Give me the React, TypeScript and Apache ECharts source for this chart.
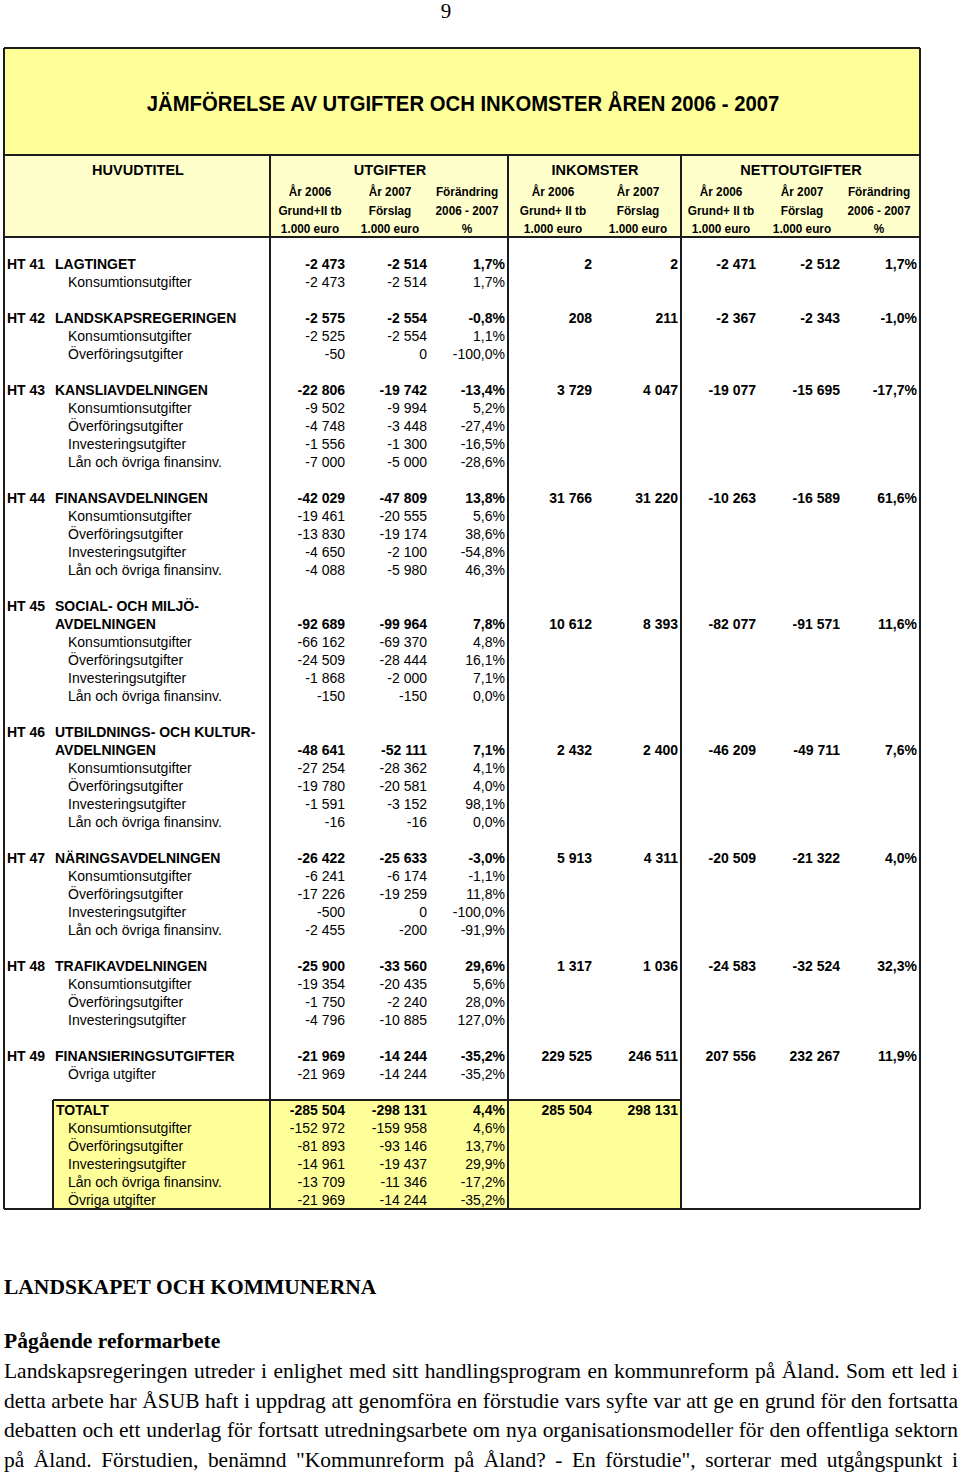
import React, { useEffect, useRef } from "react";
import * as echarts from "echarts";

// ---------- DATA ----------
const pageNumber = "9";
const tableTitle = "JÄMFÖRELSE AV UTGIFTER OCH INKOMSTER ÅREN 2006 - 2007";
const groupHeaders = ["HUVUDTITEL", "UTGIFTER", "INKOMSTER", "NETTOUTGIFTER"];
const subHeaderYears = ["År 2006", "År 2007", "Förändring", "År 2006", "År 2007", "År 2006", "År 2007", "Förändring"];
const subHeaderBasis = ["Grund+II tb", "Förslag", "2006 - 2007", "Grund+ II tb", "Förslag", "Grund+ II tb", "Förslag", "2006 - 2007"];
const subHeaderUnits = ["1.000 euro", "1.000 euro", "%", "1.000 euro", "1.000 euro", "1.000 euro", "1.000 euro", "%"];

const htCodes = ["HT 41", "HT 42", "HT 43", "HT 44", "HT 45", "HT 46", "HT 47", "HT 48", "HT 49"];
const htNames = [
  ["LAGTINGET"],
  ["LANDSKAPSREGERINGEN"],
  ["KANSLIAVDELNINGEN"],
  ["FINANSAVDELNINGEN"],
  ["SOCIAL- OCH MILJÖ-", "AVDELNINGEN"],
  ["UTBILDNINGS- OCH KULTUR-", "AVDELNINGEN"],
  ["NÄRINGSAVDELNINGEN"],
  ["TRAFIKAVDELNINGEN"],
  ["FINANSIERINGSUTGIFTER"],
];
const htUtg2006 = [-2473, -2575, -22806, -42029, -92689, -48641, -26422, -25900, -21969];
const htUtg2007 = [-2514, -2554, -19742, -47809, -99964, -52111, -25633, -33560, -14244];
const htUtgChange = [1.7, -0.8, -13.4, 13.8, 7.8, 7.1, -3.0, 29.6, -35.2];
const htInk2006 = [2, 208, 3729, 31766, 10612, 2432, 5913, 1317, 229525];
const htInk2007 = [2, 211, 4047, 31220, 8393, 2400, 4311, 1036, 246511];
const htNet2006 = [-2471, -2367, -19077, -10263, -82077, -46209, -20509, -24583, 207556];
const htNet2007 = [-2512, -2343, -15695, -16589, -91571, -49711, -21322, -32524, 232267];
const htNetChange = [1.7, -1.0, -17.7, 61.6, 11.6, 7.6, 4.0, 32.3, 11.9];

const subLabels = [
  ["Konsumtionsutgifter"],
  ["Konsumtionsutgifter", "Överföringsutgifter"],
  ["Konsumtionsutgifter", "Överföringsutgifter", "Investeringsutgifter", "Lån och övriga finansinv."],
  ["Konsumtionsutgifter", "Överföringsutgifter", "Investeringsutgifter", "Lån och övriga finansinv."],
  ["Konsumtionsutgifter", "Överföringsutgifter", "Investeringsutgifter", "Lån och övriga finansinv."],
  ["Konsumtionsutgifter", "Överföringsutgifter", "Investeringsutgifter", "Lån och övriga finansinv."],
  ["Konsumtionsutgifter", "Överföringsutgifter", "Investeringsutgifter", "Lån och övriga finansinv."],
  ["Konsumtionsutgifter", "Överföringsutgifter", "Investeringsutgifter"],
  ["Övriga utgifter"],
];
const subUtg2006 = [
  [-2473],
  [-2525, -50],
  [-9502, -4748, -1556, -7000],
  [-19461, -13830, -4650, -4088],
  [-66162, -24509, -1868, -150],
  [-27254, -19780, -1591, -16],
  [-6241, -17226, -500, -2455],
  [-19354, -1750, -4796],
  [-21969],
];
const subUtg2007 = [
  [-2514],
  [-2554, 0],
  [-9994, -3448, -1300, -5000],
  [-20555, -19174, -2100, -5980],
  [-69370, -28444, -2000, -150],
  [-28362, -20581, -3152, -16],
  [-6174, -19259, 0, -200],
  [-20435, -2240, -10885],
  [-14244],
];
const subUtgChange = [
  [1.7],
  [1.1, -100.0],
  [5.2, -27.4, -16.5, -28.6],
  [5.6, 38.6, -54.8, 46.3],
  [4.8, 16.1, 7.1, 0.0],
  [4.1, 4.0, 98.1, 0.0],
  [-1.1, 11.8, -100.0, -91.9],
  [5.6, 28.0, 127.0],
  [-35.2],
];

const totalLabel = "TOTALT";
const totalUtg2006 = -285504;
const totalUtg2007 = -298131;
const totalUtgChange = 4.4;
const totalInk2006 = 285504;
const totalInk2007 = 298131;
const totalSubLabels = ["Konsumtionsutgifter", "Överföringsutgifter", "Investeringsutgifter", "Lån och övriga finansinv.", "Övriga utgifter"];
const totalSubUtg2006 = [-152972, -81893, -14961, -13709, -21969];
const totalSubUtg2007 = [-159958, -93146, -19437, -11346, -14244];
const totalSubChange = [4.6, 13.7, 29.9, -17.2, -35.2];

const sectionHeading = "LANDSKAPET OCH KOMMUNERNA";
const subHeading = "Pågående reformarbete";
const bodyLines = [
  "Landskapsregeringen utreder i enlighet med sitt handlingsprogram en kommunreform på Åland. Som ett led i",
  "detta arbete har ÅSUB haft i uppdrag att genomföra en förstudie vars syfte var att ge en grund för den fortsatta",
  "debatten och ett underlag för fortsatt utredningsarbete om nya organisationsmodeller för den offentliga sektorn",
  "på Åland. Förstudien, benämnd \"Kommunreform på Åland? - En förstudie\", sorterar med utgångspunkt i",
];

// ---------- LAYOUT ----------
const SANS = "'Liberation Sans', Arial, Helvetica, sans-serif";
const SERIF = "'Liberation Serif', 'Times New Roman', Times, serif";
const LINE = "#1c1c1c";
const YELLOW = "#FFFF99";
const LIGHT_YELLOW = "#FFFFCC";
const TL = 4, TR = 920, TTOP = 48, TITLE_BOTTOM = 155, HEAD_BOTTOM = 237;
const VLINES = [270, 508, 681];
const COL_RIGHT = [345, 427, 505, 592, 678, 756, 840, 917];
const HEAD_CENTER = [310, 390, 467, 553, 638, 721, 802, 879];
const GROUP_CENTER = [138, 390, 595, 801];
const ROW0 = 263.5, ROW_H = 18;

const fmtNum = (v: number) => {
  const s = Math.abs(v).toString().replace(/\B(?=(\d{3})+(?!\d))/g, " ");
  return (v < 0 ? "-" : "") + s;
};
const fmtPct = (v: number) => v.toFixed(1).replace(".", ",") + "%";
const rowY = (i: number) => ROW0 + ROW_H * i;

function buildElements() {
  const fills: any[] = [];
  const lines: any[] = [];
  const texts: any[] = [];
  const txt = (text: string, x: number, y: number, o: any = {}, extra: any = {}) =>
    texts.push({
      type: "text",
      x,
      y,
      silent: true,
      ...extra,
      style: {
        text,
        fill: "#000",
        fontFamily: SANS,
        fontSize: 14,
        fontWeight: "normal",
        align: "left",
        verticalAlign: "middle",
        ...o,
      },
    });
  const ln = (x1: number, y1: number, x2: number, y2: number, w = 2) =>
    lines.push({ type: "line", silent: true, shape: { x1, y1, x2, y2 }, style: { stroke: LINE, lineWidth: w } });

  // page number
  txt(pageNumber, 446, 11, { fontFamily: SERIF, fontSize: 21, align: "center" });

  // bands
  fills.push({ type: "rect", silent: true, shape: { x: TL, y: TTOP, width: TR - TL, height: TITLE_BOTTOM - TTOP }, style: { fill: YELLOW } });
  fills.push({ type: "rect", silent: true, shape: { x: TL, y: TITLE_BOTTOM, width: TR - TL, height: HEAD_BOTTOM - TITLE_BOTTOM }, style: { fill: LIGHT_YELLOW } });

  txt(tableTitle, 463, 103, { fontSize: 20.3, fontWeight: "bold", align: "center" }, { scaleY: 1.12 });
  groupHeaders.forEach((g, i) => txt(g, GROUP_CENTER[i], 169.5, { fontSize: 14.5, fontWeight: "bold", align: "center" }));
  const subRows = [subHeaderYears, subHeaderBasis, subHeaderUnits];
  const subY = [192, 210.5, 229];
  subRows.forEach((arr, r) =>
    arr.forEach((s, i) => txt(s, HEAD_CENTER[i], subY[r], { fontSize: 11.8, fontWeight: "bold", align: "center" }, { scaleY: 1.1 }))
  );

  // body rows
  let r = 0;
  htCodes.forEach((code, s) => {
    const names = htNames[s];
    txt(code, 7, rowY(r), { fontWeight: "bold" });
    names.forEach((n, j) => txt(n, 55, rowY(r + j), { fontWeight: "bold" }));
    const nr = r + names.length - 1;
    const vals = [
      fmtNum(htUtg2006[s]), fmtNum(htUtg2007[s]), fmtPct(htUtgChange[s]),
      fmtNum(htInk2006[s]), fmtNum(htInk2007[s]),
      fmtNum(htNet2006[s]), fmtNum(htNet2007[s]), fmtPct(htNetChange[s]),
    ];
    vals.forEach((v, c) => txt(v, COL_RIGHT[c], rowY(nr), { fontWeight: "bold", align: "right" }));
    r = nr + 1;
    subLabels[s].forEach((lab, k) => {
      txt(lab, 68, rowY(r), {});
      txt(fmtNum(subUtg2006[s][k]), COL_RIGHT[0], rowY(r), { align: "right" });
      txt(fmtNum(subUtg2007[s][k]), COL_RIGHT[1], rowY(r), { align: "right" });
      txt(fmtPct(subUtgChange[s][k]), COL_RIGHT[2], rowY(r), { align: "right" });
      r++;
    });
    r++;
  });

  // totals
  const totRow = r;
  const lastRow = totRow + totalSubLabels.length;
  const boxTop = rowY(totRow) - 9.5;
  const tableBottom = rowY(lastRow) + 9.5;
  fills.push({ type: "rect", silent: true, shape: { x: 53, y: boxTop, width: VLINES[2] - 53, height: tableBottom - boxTop }, style: { fill: YELLOW } });
  txt(totalLabel, 56, rowY(totRow), { fontWeight: "bold" });
  [fmtNum(totalUtg2006), fmtNum(totalUtg2007), fmtPct(totalUtgChange), fmtNum(totalInk2006), fmtNum(totalInk2007)].forEach((v, c) =>
    txt(v, COL_RIGHT[c], rowY(totRow), { fontWeight: "bold", align: "right" })
  );
  totalSubLabels.forEach((lab, k) => {
    const y = rowY(totRow + 1 + k);
    txt(lab, 68, y, {});
    txt(fmtNum(totalSubUtg2006[k]), COL_RIGHT[0], y, { align: "right" });
    txt(fmtNum(totalSubUtg2007[k]), COL_RIGHT[1], y, { align: "right" });
    txt(fmtPct(totalSubChange[k]), COL_RIGHT[2], y, { align: "right" });
  });

  // grid lines
  ln(TL, TTOP, TR, TTOP);
  ln(TL, TTOP, TL, tableBottom);
  ln(TR, TTOP, TR, tableBottom);
  ln(TL, tableBottom, TR, tableBottom);
  ln(TL, TITLE_BOTTOM, TR, TITLE_BOTTOM);
  ln(TL, HEAD_BOTTOM, TR, HEAD_BOTTOM);
  VLINES.forEach((x) => ln(x, TITLE_BOTTOM, x, tableBottom));
  ln(53, boxTop, VLINES[2], boxTop);
  ln(53, boxTop, 53, tableBottom);

  // text below table
  txt(sectionHeading, 4, 1287, { fontFamily: SERIF, fontSize: 21.5, fontWeight: "bold" });
  txt(subHeading, 4, 1341, { fontFamily: SERIF, fontSize: 21.5, fontWeight: "bold" });

  const canvas = document.createElement("canvas");
  const ctx = canvas.getContext("2d");
  const measure = (s: string, size: number) => {
    if (!ctx) return s.length * size * 0.42;
    ctx.font = `${size}px ${SERIF}`;
    return ctx.measureText(s).width;
  };
  const left = 4, right = 958, avail = right - left;
  let maxW = 0;
  bodyLines.forEach((l) => (maxW = Math.max(maxW, measure(l, 20))));
  const bodySize = Math.min(23, (20 * (avail - 3)) / maxW);
  bodyLines.forEach((l, i) => {
    const y = 1371 + 29.5 * i;
    const words = l.split(" ");
    const widths = words.map((w) => measure(w, bodySize));
    const sum = widths.reduce((a, b) => a + b, 0);
    const gap = (avail - sum) / (words.length - 1);
    let x = left;
    words.forEach((w, k) => {
      txt(w, x, y, { fontFamily: SERIF, fontSize: bodySize });
      x += widths[k] + gap;
    });
  });

  return [...fills, ...lines, ...texts];
}

export default function App() {
  const ref = useRef<HTMLDivElement>(null);
  useEffect(() => {
    if (!ref.current) return;
    const chart = echarts.init(ref.current, null, { renderer: "svg" });
    chart.setOption({ animation: false, graphic: { elements: buildElements() } });
    return () => chart.dispose();
  }, []);
  return (
    <div
      ref={ref}
      style={{ position: "absolute", left: 0, top: 0, width: 960, height: 1474, background: "#fff" }}
    />
  );
}
